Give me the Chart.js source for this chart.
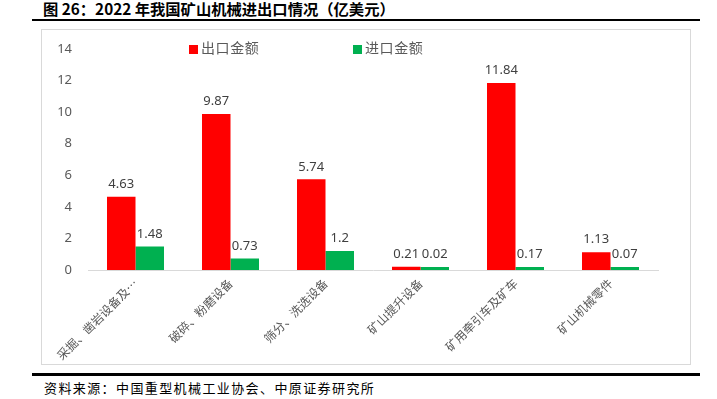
<!DOCTYPE html>
<html><head><meta charset="utf-8">
<script src="https://cdn.jsdelivr.net/npm/chart.js@4"></script>
<style>
html,body{margin:0;padding:0;background:#fff;width:717px;height:399px;overflow:hidden;font-family:"Noto Sans CJK SC","Noto Sans",sans-serif;}
#title{position:absolute;left:43px;top:-3px;font-size:15.3px;font-weight:bold;color:#000;white-space:nowrap;}
.rule{position:absolute;left:32px;width:668px;height:2px;background:#000;}
#box{position:absolute;left:41px;top:29px;width:648px;height:334px;border:1px solid #d9d9d9;}
#c{position:absolute;left:0;top:-5px;}
#src{position:absolute;left:44px;top:378px;font-size:13px;letter-spacing:1.4px;color:#000;white-space:nowrap;}
.leg{position:absolute;top:37px;font-size:14px;letter-spacing:0.6px;color:#595959;white-space:nowrap;}
.leg i{display:inline-block;width:9px;height:9px;margin-right:3px;vertical-align:-1px;}
</style></head>
<body>
<div id="title">图 26：2022 年我国矿山机械进出口情况（亿美元）</div>
<div class="rule" style="top:19px"></div>
<div id="box"><canvas id="c" width="648" height="339"></canvas></div>
<div class="leg" style="left:189px"><i style="background:#FF0000"></i>出口金额</div>
<div class="leg" style="left:353px"><i style="background:#00B050"></i>进口金额</div>
<div class="rule" style="top:373px;height:3px"></div>
<div id="src">资料来源：中国重型机械工业协会、中原证券研究所</div>
<script>
const categories = ["采掘、凿岩设备及…","破碎、粉磨设备","筛分、洗选设备","矿山提升设备","矿用牵引车及矿车","矿山机械零件"];
const exportValues = [4.63, 9.87, 5.74, 0.21, 11.84, 1.13];
const importValues = [1.48, 0.73, 1.2, 0.02, 0.17, 0.07];
const exportLabels = ["4.63","9.87","5.74","0.21","11.84","1.13"];
const importLabels = ["1.48","0.73","1.2","0.02","0.17","0.07"];
const yTicks = [0,2,4,6,8,10,12,14];

const labelPlugin = {
  id:'vals',
  afterDatasetsDraw(chart){
    const ctx = chart.ctx;
    ctx.save();
    ctx.font = '13px "Noto Sans","Noto Sans CJK SC",sans-serif';
    ctx.fillStyle = '#404040';
    ctx.textAlign = 'center';
    ctx.textBaseline = 'bottom';
    const lbls = [exportLabels, importLabels];
    chart.data.datasets.forEach((ds, di) => {
      chart.getDatasetMeta(di).data.forEach((el, i) => {
        ctx.fillText(lbls[di][i], el.x, el.y - 6);
      });
    });
    ctx.restore();
  }
};

new Chart(document.getElementById('c'), {
  type:'bar',
  data:{
    labels:categories,
    datasets:[
      {label:'出口金额', data:exportValues, backgroundColor:'#FF0000', minBarLength:3},
      {label:'进口金额', data:importValues, backgroundColor:'#00B050', minBarLength:3}
    ]
  },
  options:{
    responsive:false,
    animation:false,
    layout:{padding:{top:6,right:32,left:0,bottom:0}},
    datasets:{bar:{categoryPercentage:0.6,barPercentage:1.0}},
    plugins:{legend:{display:false},tooltip:{enabled:false}},
    scales:{
      x:{
        grid:{display:false,drawTicks:false},
        border:{display:true,color:'#d9d9d9',width:1},
        ticks:{color:'#595959',font:{size:12,family:'"Noto Sans CJK SC",sans-serif'},minRotation:45,maxRotation:45,autoSkip:false,padding:6},
        afterFit(s){s.height=94;}
      },
      y:{
        min:0,max:14,
        grid:{display:false,drawTicks:false},
        border:{display:false},
        afterBuildTicks(s){s.ticks = yTicks.map(v=>({value:v}));},
        ticks:{color:'#595959',font:{size:13,family:'"Noto Sans",sans-serif'},padding:16},
        afterFit(s){s.width=46;}
      }
    }
  },
  plugins:[labelPlugin]
});
</script>
</body></html>
